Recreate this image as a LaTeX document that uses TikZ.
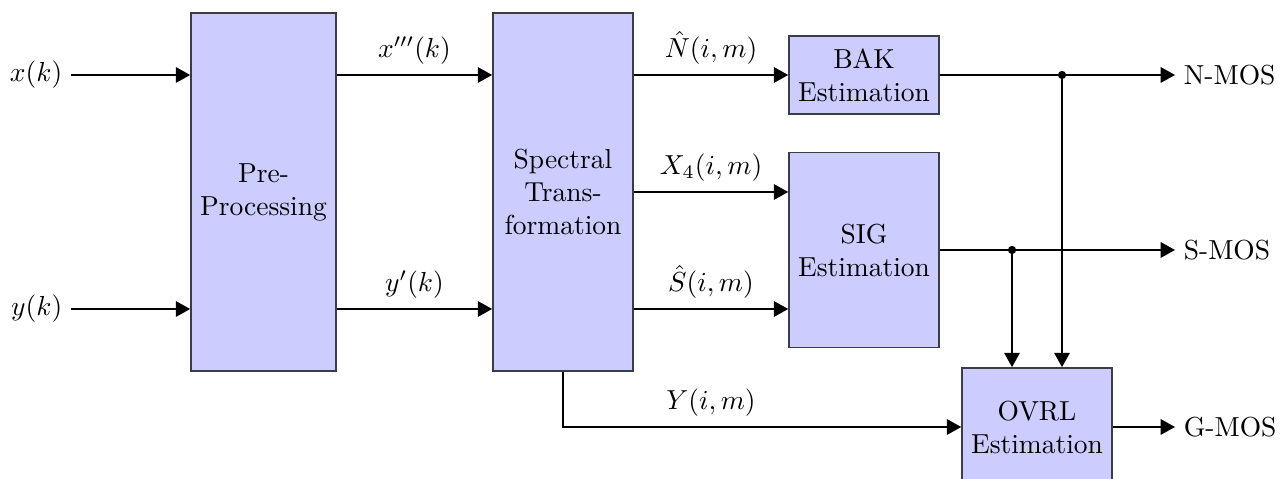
\documentclass[tikz,border=0pt]{standalone}
\usetikzlibrary{arrows.meta,calc}
\definecolor{boxfill}{RGB}{204,204,255}
\definecolor{boxline}{RGB}{60,60,70}
\begin{document}
\begin{tikzpicture}[x=0.3636pt,y=-0.3636pt,
  blk/.style={draw=boxline,fill=boxfill,line width=0.6pt,inner sep=0pt,align=center},
  arr/.style={line width=0.65pt,-{Triangle[length=5.2pt,width=5.6pt]}},
  lbl/.style={above,inner sep=3.5pt},
  io/.style={inner sep=3pt},
  junc/.style={circle,fill=black,inner sep=0pt,minimum size=3pt}]
\path[use as bounding box,clip] (0,0) rectangle (1285,479);
% blocks
\node[blk,minimum width=52.7pt,minimum height=130.2pt] (pre) at (263.5,192) {Pre-\\Processing};
\node[blk,minimum width=50.9pt,minimum height=130.2pt] (spec) at (563,192) {Spectral\\Trans-\\formation};
\node[blk,minimum width=54.5pt,minimum height=28.4pt] (bak) at (864,75) {BAK\\Estimation};
\node[blk,minimum width=54.5pt,minimum height=70.9pt] (sig) at (864,250) {SIG\\Estimation};
\node[blk,minimum width=54.5pt,minimum height=42.9pt] (ovrl) at (1037,427) {OVRL\\Estimation};
% inputs
\node[io,anchor=east] (xk) at (71,75) {$x(k)$};
\node[io,anchor=east] (yk) at (71,309) {$y(k)$};
\draw[arr] (xk.east) -- (pre.west |- xk.east);
\draw[arr] (yk.east) -- (pre.west |- yk.east);
% pre -> spec
\draw[arr] (pre.east |- xk.east) -- node[lbl] {$x'''(k)$} (spec.west |- xk.east);
\draw[arr] (pre.east |- yk.east) -- node[lbl] {$y'(k)$} (spec.west |- yk.east);
% spec -> estimators
\draw[arr] (spec.east |- bak.west) -- node[lbl] {$\hat{N}(i,m)$} (bak.west);
\coordinate (x4) at (633,192);
\draw[arr] (spec.east |- x4) -- node[lbl] {$X_4(i,m)$} (sig.west |- x4);
\draw[arr] (spec.east |- yk.east) -- node[lbl] {$\hat{S}(i,m)$} (sig.west |- yk.east);
\coordinate (ycorner) at (spec.south |- ovrl.west);
\draw[arr] (spec.south) -- (ycorner) -- (ovrl.west);
\node[lbl] (ylbl) at (711,427) {$Y(i,m)$};
% outputs
\node[io,anchor=west] (nmos) at (1175,75) {N-MOS};
\node[io,anchor=west] (smos) at (1175,250) {S-MOS};
\node[io,anchor=west] (gmos) at (1175,427) {G-MOS};
\node[junc] (j1) at (1062,75) {};
\node[junc] (j2) at (1012,250) {};
\draw[arr] (bak.east) -- (nmos.west);
\draw[arr] (sig.east) -- (smos.west);
\draw[arr] (ovrl.east) -- (gmos.west);
\draw[arr] (j1.center) -- (j1 |- ovrl.north);
\draw[arr] (j2.center) -- (j2 |- ovrl.north);
\end{tikzpicture}
\end{document}
